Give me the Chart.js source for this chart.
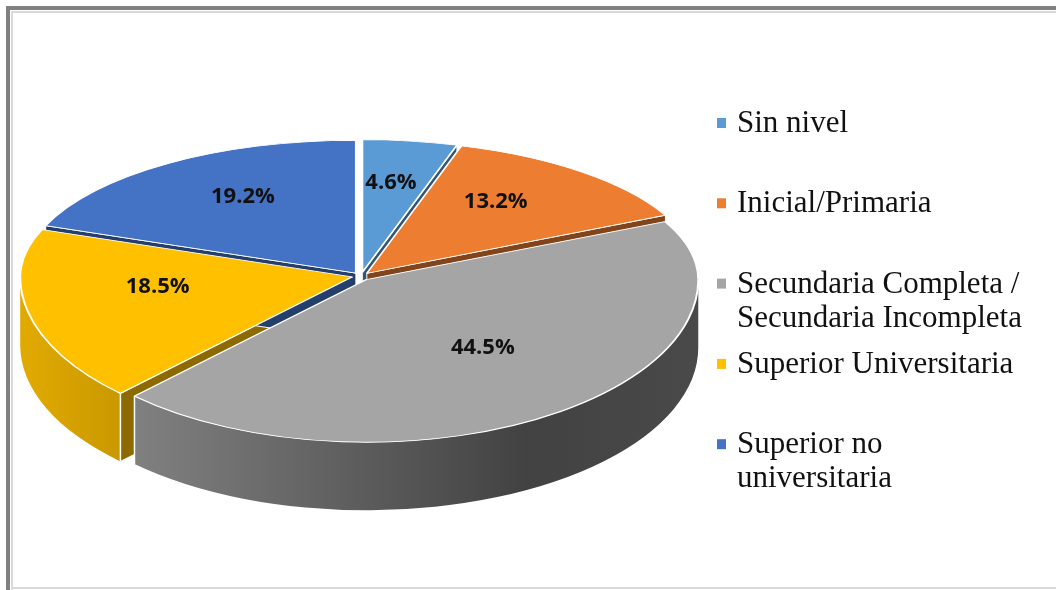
<!DOCTYPE html>
<html>
<head>
<meta charset="utf-8">
<script src="https://cdn.jsdelivr.net/npm/chart.js@4.4.1/dist/chart.umd.min.js"></script>
<style>
  html, body { margin: 0; padding: 0; background: #fff; }
  canvas { display: block; }
</style>
</head>
<body>
<canvas id="myChart" width="1056" height="590"></canvas>
<script>
const categories = ['Sin nivel', 'Inicial/Primaria', 'Secundaria Completa / Secundaria Incompleta', 'Superior Universitaria', 'Superior no universitaria'];
const percentages = [4.6, 13.2, 44.5, 18.5, 19.2];
const colors = ['#5B9BD5', '#ED7D31', '#A5A5A5', '#FFC000', '#4472C4'];

// fake 3d settings: the far half is squashed more than the near half
const backTilt = 0.40;
const frontTilt = 0.49;
const depth = 68;      // height of the side walls
const explode = 9;     // pull every slice out from the middle
const labelPos = 0.6;  // label distance as a share of the radius

// legend placement
const legendX = 717;
const legendTop = 132;
const legendStep = 80.3;
const legendLine = 34;
const legendWrap = 295;

function shade(hex, f) {
    const n = parseInt(hex.slice(1), 16);
    const r = Math.round(((n >> 16) & 255) * f);
    const g = Math.round(((n >> 8) & 255) * f);
    const b = Math.round((n & 255) * f);
    return `rgb(${r},${g},${b})`;
}

function tiltFor(angle) {
    return Math.sin(angle) < 0 ? backTilt : frontTilt;
}

function sliceOrigin(arc) {
    const mid = (arc.startAngle + arc.endAngle) / 2;
    return {
        x: arc.x + Math.cos(mid) * explode,
        y: arc.y + Math.sin(mid) * explode * tiltFor(mid),
        mid: mid
    };
}

function rimPoint(o, R, a) {
    return { x: o.x + Math.cos(a) * R, y: o.y + Math.sin(a) * R * tiltFor(a) };
}

function wrapText(ctx, text, maxWidth) {
    let lines = [], line = '';
    text.split(' ').forEach(word => {
        let test = line ? line + ' ' + word : word;
        if (line && ctx.measureText(test).width > maxWidth) {
            lines.push(line);
            line = word;
        } else {
            line = test;
        }
    });
    lines.push(line);
    return lines;
}

const framePlugin = {
    id: 'frame',
    beforeDraw(chart) {
        const ctx = chart.ctx;
        ctx.save();
        ctx.fillStyle = '#fff';
        ctx.fillRect(0, 0, chart.width, chart.height);
        ctx.fillStyle = '#808080';
        ctx.fillRect(6, 6, 4, chart.height - 6);
        ctx.fillRect(6, 6, chart.width - 6, 4);
        ctx.fillStyle = '#d9d9d9';
        ctx.fillRect(11, 11, 2, chart.height - 11);
        ctx.fillRect(11, 11, chart.width - 11, 2);
        ctx.fillRect(11, 587, chart.width - 11, 2);
        ctx.restore();
    }
};

const pie3d = {
    id: 'pie3d',
    beforeDatasetsDraw(chart) {
        const ctx = chart.ctx;
        const arcs = chart.getDatasetMeta(0).data;
        ctx.save();

        // cut faces that show through the gaps
        arcs.forEach((arc, i) => {
            const o = sliceOrigin(arc);
            const R = arc.outerRadius;
            let edges = [];
            if (Math.cos(arc.startAngle) < 0) edges.push(arc.startAngle);
            if (Math.cos(arc.endAngle) > 0) edges.push(arc.endAngle);
            edges.forEach(a => {
                const p = rimPoint(o, R, a);
                ctx.beginPath();
                ctx.moveTo(o.x, o.y);
                ctx.lineTo(p.x, p.y);
                ctx.lineTo(p.x, p.y + depth);
                ctx.lineTo(o.x, o.y + depth);
                ctx.closePath();
                ctx.fillStyle = shade(colors[i], 0.55);
                ctx.fill();
                ctx.strokeStyle = '#fff';
                ctx.lineWidth = 1;
                ctx.stroke();
            });
        });

        // outer rim, only the front half is visible
        arcs.forEach((arc, i) => {
            const lo = Math.max(arc.startAngle, 0);
            const hi = Math.min(arc.endAngle, Math.PI);
            if (hi <= lo) return;
            const o = sliceOrigin(arc);
            const R = arc.outerRadius;
            const grad = ctx.createLinearGradient(arc.x - R, 0, arc.x + R, 0);
            grad.addColorStop(0, shade(colors[i], 0.88));
            grad.addColorStop(0.75, shade(colors[i], 0.4));
            grad.addColorStop(1, shade(colors[i], 0.44));
            ctx.beginPath();
            ctx.ellipse(o.x, o.y, R, R * frontTilt, 0, lo, hi);
            ctx.ellipse(o.x, o.y + depth, R, R * frontTilt, 0, hi, lo, true);
            ctx.closePath();
            ctx.fillStyle = grad;
            ctx.fill();

            // white seams where the rim meets a cut face
            ctx.strokeStyle = '#fff';
            ctx.lineWidth = 1.5;
            [lo, hi].forEach(a => {
                if (a === 0 || a === Math.PI) return;
                const p = rimPoint(o, R, a);
                ctx.beginPath();
                ctx.moveTo(p.x, p.y);
                ctx.lineTo(p.x, p.y + depth);
                ctx.stroke();
            });
        });

        // top faces: each arc element draws itself twice, once per half
        arcs.forEach(arc => {
            const o = sliceOrigin(arc);
            [[backTilt, 0, o.y + 1], [frontTilt, o.y, chart.height]].forEach(([k, y0, y1]) => {
                ctx.save();
                ctx.beginPath();
                ctx.rect(0, y0, chart.width, y1 - y0);
                ctx.clip();
                ctx.translate(o.x, o.y);
                ctx.scale(1, k);
                ctx.translate(-arc.x, -arc.y);
                arc.draw(ctx);
                ctx.restore();
            });
        });

        ctx.restore();
        return false;
    },
    afterDraw(chart) {
        const ctx = chart.ctx;
        const arcs = chart.getDatasetMeta(0).data;
        ctx.save();

        // value labels, sitting just above their anchor point
        ctx.font = 'bold 22px "Open Sans", sans-serif';
        ctx.fillStyle = '#111';
        ctx.textAlign = 'center';
        ctx.textBaseline = 'bottom';
        arcs.forEach((arc, i) => {
            const o = sliceOrigin(arc);
            const p = rimPoint(o, arc.outerRadius * labelPos, o.mid);
            ctx.fillText(percentages[i].toFixed(1) + '%', p.x, p.y);
        });

        // legend on the right
        ctx.font = '31px "Liberation Serif", "Times New Roman", serif';
        ctx.textAlign = 'left';
        ctx.textBaseline = 'alphabetic';
        categories.forEach((name, i) => {
            const base = legendTop + i * legendStep;
            ctx.fillStyle = colors[i];
            ctx.fillRect(legendX, base - 14, 9, 10);
            ctx.fillStyle = '#111';
            wrapText(ctx, name, legendWrap).forEach((line, j) => {
                ctx.fillText(line, legendX + 20, base + j * legendLine);
            });
        });

        ctx.restore();
    }
};

const ctx = document.getElementById('myChart');

const myChart = new Chart(ctx, {
    type: 'pie',
    data: {
        labels: categories,
        datasets: [{
            data: percentages,
            backgroundColor: colors,
            borderColor: '#ffffff',
            borderWidth: 2
        }]
    },
    options: {
        responsive: false,
        animation: false,
        devicePixelRatio: 1,
        radius: 332,
        layout: {
            padding: { left: 0, right: 334, top: 0, bottom: 38 }
        },
        plugins: {
            legend: { display: false },
            tooltip: { enabled: false }
        }
    },
    plugins: [framePlugin, pie3d]
});
</script>
</body>
</html>
